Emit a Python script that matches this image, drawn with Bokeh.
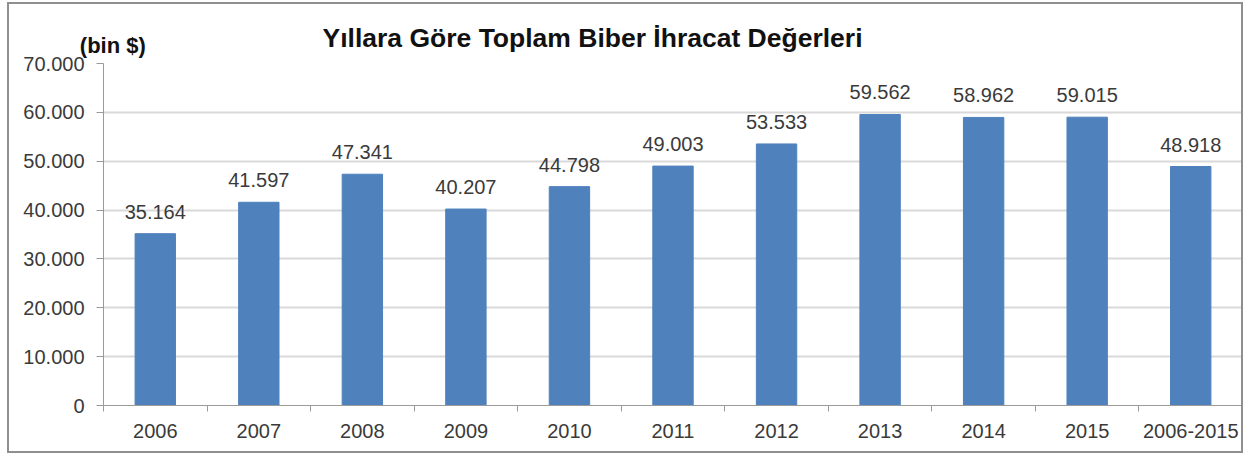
from bokeh.plotting import figure
from bokeh.models import FixedTicker, Range1d, ColumnDataSource, LinearAxis
from bokeh.core.properties import value
from bokeh.embed import file_html
from bokeh.resources import INLINE

categories = ["2006", "2007", "2008", "2009", "2010", "2011", "2012", "2013", "2014", "2015", "2006-2015"]
values = [35164, 41597, 47341, 40207, 44798, 49003, 53533, 59562, 58962, 59015, 48918]
y_ticks = [0, 10000, 20000, 30000, 40000, 50000, 60000, 70000]
title_text = "Yıllara Göre Toplam Biber İhracat Değerleri"
unit_text = "(bin $)"

def fmt(v):
    return f"{v:,}".replace(",", ".")

labels = [fmt(v) for v in values]
xs = [i + 0.5 for i in range(len(categories))]

src = ColumnDataSource(dict(x=xs, top=values, label=labels))

FONT = "Liberation Sans"
TXT = "#3a3a3a"

p = figure(width=1236, height=451, output_backend="svg", toolbar_location=None,
           x_range=Range1d(0, len(categories)), y_range=Range1d(0, 70000),
           min_border_left=94, min_border_right=3, min_border_top=59, min_border_bottom=50)
p.styles = {"border": "2px solid #8f8f8f", "box-sizing": "border-box",
            "margin-left": "7px", "margin-top": "2px"}
p.outline_line_color = None
p.background_fill_color = "white"
p.border_fill_color = "white"

p.vbar(x="x", top="top", width=0.39, bottom=0, source=src,
       fill_color="#4F81BD", line_color="#4F81BD")

p.text(x="x", y="top", text="label", source=src, text_align="center",
       text_baseline="bottom", y_offset=-15, text_font=value(FONT),
       text_font_size="20px", text_color=TXT)

# x axis
p.xaxis.ticker = FixedTicker(ticks=xs, minor_ticks=list(range(len(categories) + 1)))
p.xaxis.major_label_overrides = {x: c for x, c in zip(xs, categories)}
p.xaxis.major_tick_out = 0
p.xaxis.major_tick_in = 0
p.xaxis.minor_tick_out = 6
p.xaxis.minor_tick_in = 0
p.xaxis.minor_tick_line_color = "#9a9a9a"
p.xaxis.axis_line_color = "#9a9a9a"
p.xaxis.major_label_standoff = 12
p.xaxis.major_label_text_font = FONT
p.xaxis.major_label_text_font_size = "20px"
p.xaxis.major_label_text_color = TXT

# y axis
p.yaxis.ticker = FixedTicker(ticks=y_ticks, minor_ticks=[])
p.yaxis.major_label_overrides = {t: fmt(t) for t in y_ticks}
p.yaxis.major_tick_out = 7
p.yaxis.major_tick_in = 0
p.yaxis.major_tick_line_color = "#9a9a9a"
p.yaxis.axis_line_color = "#9a9a9a"
p.yaxis.major_label_standoff = 12
p.yaxis.major_label_text_font = FONT
p.yaxis.major_label_text_font_size = "20px"
p.yaxis.major_label_text_color = TXT

p.xgrid.grid_line_color = None
p.ygrid.ticker = FixedTicker(ticks=y_ticks)
p.ygrid.grid_line_color = "#d9d9d9"
p.ygrid.grid_line_width = 2

# unit text above the y axis, drawn as a label of an invisible top axis
unit_x = 0.09
unit_axis = LinearAxis(ticker=FixedTicker(ticks=[unit_x], minor_ticks=[]),
                       major_label_overrides={unit_x: unit_text},
                       axis_line_color=None, major_tick_line_color=None,
                       minor_tick_line_color=None,
                       major_tick_out=0, major_tick_in=0,
                       major_label_standoff=6,
                       major_label_text_font=FONT,
                       major_label_text_font_size="22px",
                       major_label_text_font_style="bold",
                       major_label_text_color="#111111")
p.add_layout(unit_axis, "above")

p.title.text = title_text
p.title.align = "left"
p.title.offset = 219
p.title.standoff = -47
p.title.text_font = FONT
p.title.text_font_size = "26.5px"
p.title.text_font_style = "bold"
p.title.text_color = "#111111"

open("out.html", "w").write(file_html(p, INLINE))
